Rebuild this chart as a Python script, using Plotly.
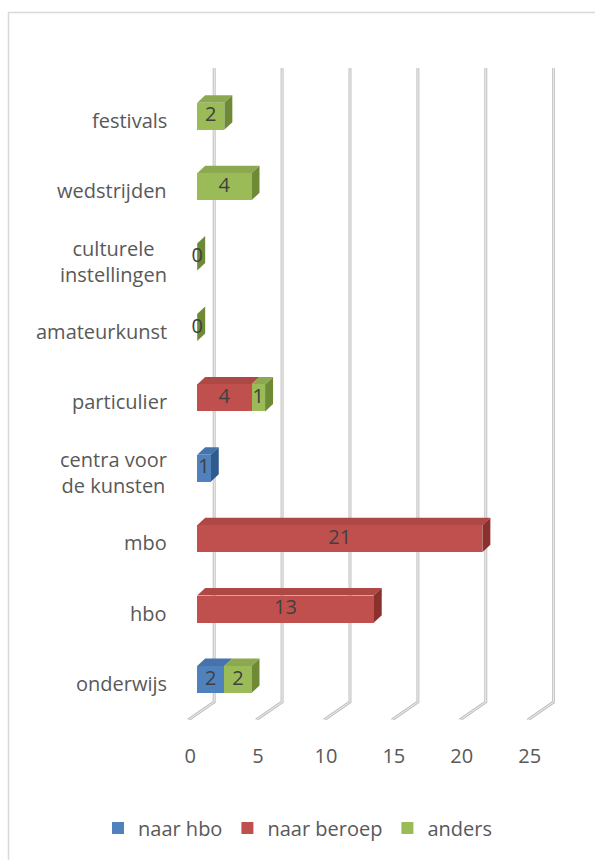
import plotly.graph_objects as go

# ---- data ----
categories = ["onderwijs", "hbo", "mbo", "centra voor de kunsten", "particulier",
              "amateurkunst", "culturele instellingen", "wedstrijden", "festivals"]
cat_labels = ["onderwijs", "hbo", "mbo", "centra voor<br>de kunsten", "particulier",
              "amateurkunst", "culturele<br>instellingen", "wedstrijden", "festivals"]
naar_hbo = [2, None, None, 1, None, None, None, None, None]
naar_beroep = [None, 13, 21, None, 4, None, None, None, None]
anders = [2, None, None, None, 1, 0, 0, 4, 2]
series_names = ["naar hbo", "naar beroep", "anders"]
x_ticks = [0, 5, 10, 15, 20, 25]

# ---- styling / layout constants ----
W, H = 595, 860
ML, MR, MT, MB = 187, 40, 68, 140
XMIN, XMAX = -0.75, 26.35
YMIN, YMAX = -0.575, 8.686
PW, PH = W - ML - MR, H - MT - MB
PXU = PW / (XMAX - XMIN)      # px per x unit
PYU = PH / (YMAX - YMIN)      # px per y unit
BAR_W = 0.384
DX = 8 / PXU
DY = 7.5 / PYU

colors = ["#4F81BD", "#C0504D", "#9BBB59"]
top_colors = ["#4674AA", "#AD4845", "#8CA950"]
side_colors = ["#2F5A8C", "#8C302D", "#6E8A35"]
FONT = "Open Sans"
TXT = "#595959"

series = [naar_hbo, naar_beroep, anders]
y_idx = list(range(len(categories)))

fig = go.Figure()
for name, vals, col in zip(series_names, series, colors):
    fig.add_trace(go.Bar(
        y=y_idx, x=vals, name=name, orientation="h", width=BAR_W,
        marker=dict(color=col, line=dict(width=0)), hoverinfo="skip"))

lab_x, lab_y, lab_t = [], [], []
shapes = []

# gridlines (3D style back plane + floor)
yb = -(702 - 679.5) / PYU
for t in x_ticks:
    xb = t + 17 / PXU
    xf = t - 9 / PXU
    path = f"M {xb},{YMAX} L {xb},{yb} L {xf},{YMIN}"
    shapes.append(dict(type="path", path=path, xref="x", yref="y", layer="below",
                       line=dict(color="#C0C0C0", width=3)))
    shapes.append(dict(type="path", path=path, xref="x", yref="y", layer="below",
                       line=dict(color="#F0F0F0", width=1)))

for i in y_idx:
    cum = 0
    last_end, last_s = None, None
    for s, vals in enumerate(series):
        v = vals[i]
        if v is None:
            continue
        x0, x1 = cum, cum + v
        lab_x.append((x0 + x1) / 2)
        lab_y.append(i)
        lab_t.append(str(v))
        yt = i + BAR_W / 2
        if v > 0:
            shapes.append(dict(
                type="path", xref="x", yref="y", layer="below",
                path=f"M {x0},{yt} L {x0 + DX},{yt + DY} L {x1 + DX},{yt + DY} L {x1},{yt} Z",
                fillcolor=top_colors[s], line=dict(width=0)))
        cum = x1
        last_end, last_s = x1, s
    if last_end is not None:
        yt = i + BAR_W / 2
        ybt = i - BAR_W / 2
        shapes.append(dict(
            type="path", xref="x", yref="y", layer="below",
            path=f"M {last_end},{yt} L {last_end + DX},{yt + DY} L {last_end + DX},{ybt + DY} L {last_end},{ybt} Z",
            fillcolor=side_colors[last_s], line=dict(width=0)))

fig.add_trace(go.Scatter(
    x=lab_x, y=lab_y, text=lab_t, mode="text", showlegend=False, hoverinfo="skip",
    textfont=dict(family=FONT, size=20, color="#404040")))

# chart border (only top/left visible in viewport)
bx = (8.5 - ML) / PW
by_top = ((H - MB) - 12.5) / PH
shapes.append(dict(type="path", xref="paper", yref="paper", layer="above",
                   path=f"M {bx},{-(880 - (H - MB)) / PH} L {bx},{by_top} L {(620 - ML) / PW},{by_top}",
                   line=dict(color="#D9D9D9", width=1.5)))

annotations = []
for i, lab in zip(y_idx, cat_labels):
    annotations.append(dict(
        x=0, xref="paper", y=i, yref="y", text=lab, showarrow=False,
        xanchor="right", yanchor="middle", align="center", xshift=-18, yshift=-4,
        font=dict(family=FONT, size=20, color=TXT)))

fig.update_layout(
    width=W, height=H, barmode="stack",
    margin=dict(l=ML, r=MR, t=MT, b=MB, autoexpand=False),
    paper_bgcolor="white", plot_bgcolor="white",
    font=dict(family=FONT, size=20, color=TXT),
    shapes=shapes, annotations=annotations,
    xaxis=dict(range=[XMIN, XMAX], tickvals=x_ticks, ticktext=[str(t) for t in x_ticks],
               showgrid=False, zeroline=False, showline=False, automargin=False,
               tickfont=dict(family=FONT, size=20, color=TXT),
               ticklabelshift=-7, ticklabelstandoff=22),
    yaxis=dict(range=[YMIN, YMAX], showgrid=False, zeroline=False, showline=False,
               showticklabels=False, automargin=False),
    legend=dict(orientation="h", x=(98 - ML) / PW, xanchor="left",
                y=-(828 - (H - MB)) / PH, yanchor="middle", itemwidth=30,
                font=dict(family=FONT, size=20, color=TXT), traceorder="normal"),
)

fig.write_html("out.html", config={"displayModeBar": False},
               post_script="document.body.style.margin='0';")
